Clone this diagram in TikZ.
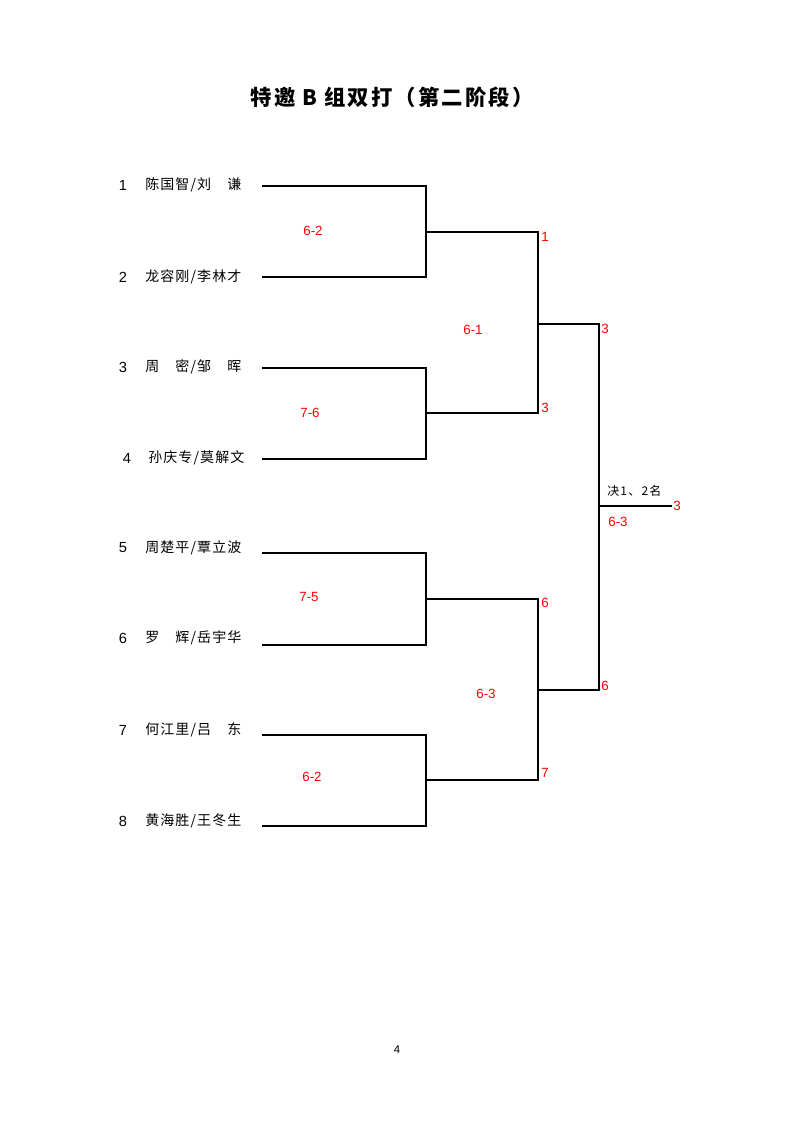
\documentclass[tikz,border=0pt]{standalone}
\usepackage{fontspec}
\setmainfont{Liberation Sans}
\newfontfamily\cjk[LetterSpace=8]{Noto Sans CJK SC}
\newfontfamily\cjks[LetterSpace=10]{Noto Sans CJK SC}
\newfontfamily\cjkt[LetterSpace=10]{Noto Sans CJK SC}
\begin{document}
\begin{tikzpicture}[x=0.75pt,y=-0.75pt,
  br/.style={line width=1.7pt,line join=miter},
  lbl/.style={text=red,font=\fontsize{10}{12}\selectfont,inner sep=0pt},
  num/.style={font=\fontsize{11}{13}\selectfont,inner sep=0pt},
  nm/.style={font=\cjk\fontsize{10.5}{12}\selectfont,inner sep=0pt,anchor=west},
]
\useasboundingbox (0,0) rectangle (794,1123);
\node[font=\cjkt\bfseries\fontsize{16}{18}\selectfont,inner sep=0pt] (title) at (392,97) {特邀 B 组双打（第二阶段）};
% coordinates
\coordinate (a1) at (262,186); \coordinate (b1) at (426,186);
\coordinate (a2) at (262,277); \coordinate (b2) at (426,277);
\coordinate (a3) at (262,368); \coordinate (b3) at (426,368);
\coordinate (a4) at (262,459); \coordinate (b4) at (426,459);
\coordinate (a5) at (262,553); \coordinate (b5) at (426,553);
\coordinate (a6) at (262,645); \coordinate (b6) at (426,645);
\coordinate (a7) at (262,735); \coordinate (b7) at (426,735);
\coordinate (a8) at (262,826); \coordinate (b8) at (426,826);
\coordinate (m12) at (426,232); \coordinate (r1) at (538,232);
\coordinate (m34) at (426,413); \coordinate (r2) at (538,413);
\coordinate (m56) at (426,599); \coordinate (r3) at (538,599);
\coordinate (m78) at (426,780); \coordinate (r4) at (538,780);
\coordinate (mA) at (538,324); \coordinate (sA) at (599,324);
\coordinate (mB) at (538,690); \coordinate (sB) at (599,690);
\coordinate (mF) at (599,506); \coordinate (fin) at (672,506);
% brackets
\draw[br] (a1) -- (b1) -- (b2) -- (a2);
\draw[br] (a3) -- (b3) -- (b4) -- (a4);
\draw[br] (a5) -- (b5) -- (b6) -- (a6);
\draw[br] (a7) -- (b7) -- (b8) -- (a8);
\draw[br] (m12) -- (r1) -- (r2) -- (m34);
\draw[br] (m56) -- (r3) -- (r4) -- (m78);
\draw[br] (mA) -- (sA) -- (sB) -- (mB);
\draw[br] (mF) -- (fin);
% players
\node[num] (n1) at (123,185) {1}; \node[nm] (p1) at (145,185) {陈国智/刘　谦};
\node[num] (n2) at (123,277) {2}; \node[nm] (p2) at (145,277) {龙容刚/李林才};
\node[num] (n3) at (123,367) {3}; \node[nm] (p3) at (145,367) {周　密/邹　晖};
\node[num] (n4) at (127,458) {4}; \node[nm] (p4) at (148,458) {孙庆专/莫解文};
\node[num] (n5) at (123,548) {5}; \node[nm] (p5) at (145,548) {周楚平/覃立波};
\node[num] (n6) at (123,638) {6}; \node[nm] (p6) at (145,638) {罗　辉/岳宇华};
\node[num] (n7) at (123,730) {7}; \node[nm] (p7) at (145,730) {何江里/吕　东};
\node[num] (n8) at (123,821) {8}; \node[nm] (p8) at (145,821) {黄海胜/王冬生};
% scores
\node[lbl] (s12) at (313,231) {6-2};
\node[lbl] (s34) at (310,413) {7-6};
\node[lbl] (s56) at (309,597) {7-5};
\node[lbl] (s78) at (312,777) {6-2};
\node[lbl] (sAA) at (473,330) {6-1};
\node[lbl] (sBB) at (486,694) {6-3};
\node[lbl] (sF) at (618,522) {6-3};
% advancing labels
\node[lbl,anchor=west] (w1) at (541,237) {1};
\node[lbl,anchor=west] (w3) at (541,408) {3};
\node[lbl,anchor=west] (w6) at (541,603) {6};
\node[lbl,anchor=west] (w7) at (541,773) {7};
\node[lbl,anchor=west] (wA) at (601,329) {3};
\node[lbl,anchor=west] (wB) at (601,686) {6};
\node[lbl,anchor=west] (wF) at (673,506) {3};
\node[font=\cjks\fontsize{9}{11}\selectfont,inner sep=0pt,anchor=west] (fl) at (607,491) {决1、2名};
\node[font=\fontsize{8.5}{10}\selectfont,inner sep=0pt] (pg) at (397,1050) {4};
\end{tikzpicture}
\end{document}
